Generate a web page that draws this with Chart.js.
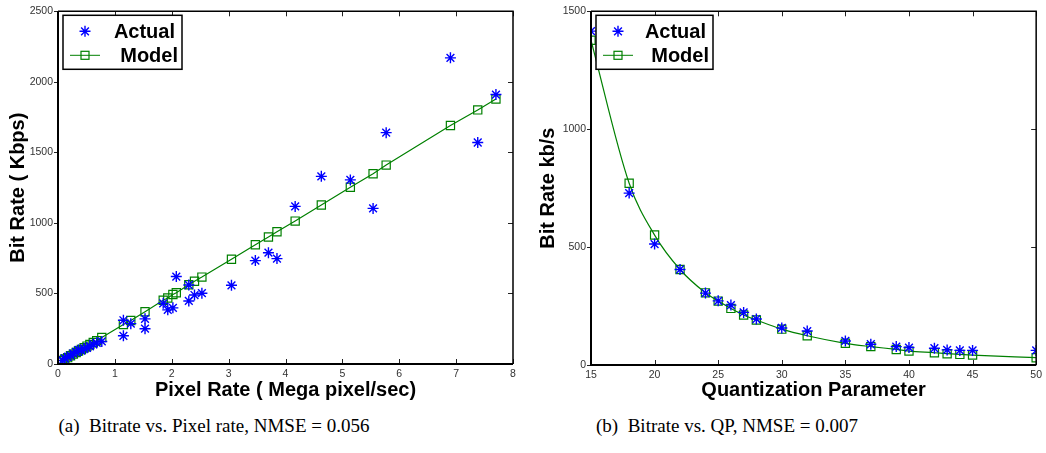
<!DOCTYPE html>
<html>
<head>
<meta charset="utf-8">
<script src="https://cdn.jsdelivr.net/npm/chart.js"></script>
<style>
    body { margin: 0; background: #fff; width: 1046px; height: 453px; overflow: hidden; position: relative; }
    canvas { position: absolute; top: 0; }
    .caption { position: absolute; top: 415px; font: 19px "Liberation Serif", "Times New Roman", serif; color: #000; line-height: 22px; white-space: nowrap; transform: translateX(-50%); }
</style>
</head>
<body>
<canvas id="rateChart" width="520" height="400" style="left:0"></canvas>
<canvas id="qpChart" width="526" height="400" style="left:520px"></canvas>
<div class="caption" style="left:214px">(a)&nbsp; Bitrate vs. Pixel rate, NMSE = 0.056</div>
<div class="caption" style="left:727px">(b)&nbsp; Bitrate vs. QP, NMSE = 0.007</div>

<script>
    // (a) bitrate vs pixel rate
    const actualPixelRate = [0.08, 0.12, 0.17, 0.22, 0.27, 0.32, 0.36, 0.41, 0.46, 0.51, 0.56, 0.62, 0.68, 0.77,
        1.15, 1.15, 1.28, 1.53, 1.53, 1.85, 1.93, 2.02, 2.08, 2.30, 2.30, 2.40, 2.53, 3.05, 3.47, 3.70, 3.85,
        4.17, 4.63, 5.14, 5.54, 5.77, 6.90, 7.38, 7.70];
    const actualBitrate = [25, 40, 50, 60, 75, 85, 100, 95, 110, 115, 125, 140, 150, 160,
        310, 200, 286, 320, 250, 430, 384, 398, 620, 560, 447, 489, 502, 558, 733, 789, 747,
        1117, 1330, 1305, 1103, 1640, 2170, 1570, 1910];
    const modelPixelRate = [0.08, 0.12, 0.17, 0.22, 0.27, 0.32, 0.36, 0.41, 0.46, 0.51, 0.56, 0.62, 0.68, 0.77,
        1.15, 1.28, 1.53, 1.85, 1.93, 2.02, 2.08, 2.30, 2.40, 2.53, 3.05, 3.47, 3.70, 3.85,
        4.17, 4.63, 5.14, 5.54, 5.77, 6.90, 7.38, 7.70];
    const modelBitrate = [25, 35, 45, 58, 70, 82, 92, 103, 115, 127, 138, 152, 165, 188,
        280, 308, 370, 452, 468, 493, 505, 562, 587, 616, 742, 845, 900, 937,
        1013, 1127, 1253, 1348, 1410, 1690, 1801, 1878];

    // (b) bitrate vs QP
    const qpValues = [15, 18, 20, 22, 24, 25, 26, 27, 28, 30, 32, 35, 37, 39, 40, 42, 43, 44, 45, 50];
    const qpActual = [1416, 729, 513, 405, 305, 272, 254, 223, 195, 157, 144, 102, 88, 78, 74, 71, 64, 62, 62, 62];
    const qpModel = [1377, 771, 551, 405, 306, 271, 240, 212, 191, 152, 124, 92, 78, 66, 59, 52, 48, 45, 42, 31];

    const legendLabels = ['Actual', 'Model'];

    const BLUE = '#0000ff';
    const GREEN = '#008000';
    const FONT = "'Liberation Sans', Arial, sans-serif";

    function toPoints(xs, ys) {
        return xs.map((x, i) => ({ x: x, y: ys[i] }));
    }

    function drawStar(ctx, x, y, r) {
        ctx.beginPath();
        for (let k = 0; k < 4; k++) {
            const a = k * Math.PI / 4;
            ctx.moveTo(x - Math.cos(a) * r, y - Math.sin(a) * r);
            ctx.lineTo(x + Math.cos(a) * r, y + Math.sin(a) * r);
        }
        ctx.stroke();
    }

    // matlab style box, inward ticks and boxed legend
    const matlabFrame = {
        id: 'matlabFrame',
        afterDraw(chart, args, opts) {
            const ctx = chart.ctx;
            const a = chart.chartArea;
            const xs = chart.scales.x;
            const ys = chart.scales.y;
            ctx.save();
            ctx.strokeStyle = '#222';
            ctx.lineWidth = 1;
            ctx.beginPath();
            xs.ticks.forEach(t => {
                const px = Math.round(xs.getPixelForValue(t.value)) + 0.5;
                ctx.moveTo(px, a.bottom); ctx.lineTo(px, a.bottom - 5);
                ctx.moveTo(px, a.top); ctx.lineTo(px, a.top + 5);
            });
            ys.ticks.forEach(t => {
                const py = Math.round(ys.getPixelForValue(t.value)) + 0.5;
                ctx.moveTo(a.left - 4, py); ctx.lineTo(a.left, py);
                ctx.moveTo(a.right - 5, py); ctx.lineTo(a.right, py);
            });
            ctx.stroke();

            ctx.strokeStyle = '#000';
            ctx.lineWidth = 2;
            ctx.beginPath();
            ctx.moveTo(a.left, a.top); ctx.lineTo(a.left, a.bottom); ctx.lineTo(a.right, a.bottom);
            ctx.stroke();
            ctx.lineWidth = 1.5;
            ctx.beginPath();
            ctx.moveTo(a.left, a.top); ctx.lineTo(a.right, a.top); ctx.lineTo(a.right, a.bottom);
            ctx.stroke();

            // legend
            const bx = a.left + 5, by = a.top + 4, bw = opts.boxWidth, bh = 54;
            ctx.fillStyle = '#fff';
            ctx.fillRect(bx, by, bw, bh);
            ctx.lineWidth = 1.5;
            ctx.strokeStyle = '#000';
            ctx.strokeRect(bx, by, bw, bh);

            const mx = bx + 22;
            const row1 = by + 16, row2 = by + 40;
            ctx.strokeStyle = BLUE;
            ctx.lineWidth = 1.4;
            drawStar(ctx, mx, row1, 5.5);
            ctx.strokeStyle = GREEN;
            ctx.lineWidth = 1;
            ctx.beginPath();
            ctx.moveTo(mx - 15, row2); ctx.lineTo(mx + 15, row2);
            ctx.stroke();
            ctx.lineWidth = 1.2;
            ctx.strokeRect(mx - 4, row2 - 4, 8, 8);

            ctx.fillStyle = '#000';
            ctx.font = 'bold 20px ' + FONT;
            ctx.textAlign = 'right';
            ctx.textBaseline = 'middle';
            ctx.fillText(legendLabels[0], bx + bw - 7, row1 + 1);
            ctx.fillText(legendLabels[1], bx + bw - 4, row2 + 1);
            ctx.restore();
        }
    };

    function makeChart(id, cfg) {
        return new Chart(document.getElementById(id).getContext('2d'), {
            type: 'scatter',
            data: {
                datasets: [
                    {
                        label: legendLabels[0],
                        data: cfg.actual,
                        pointStyle: 'star',
                        pointRadius: 5.5,
                        borderColor: BLUE,
                        backgroundColor: BLUE,
                        borderWidth: 1.4,
                        showLine: false,
                        order: 1
                    },
                    {
                        label: legendLabels[1],
                        data: cfg.model,
                        pointStyle: 'rect',
                        pointRadius: 5.8,
                        borderColor: GREEN,
                        backgroundColor: 'rgba(0,0,0,0)',
                        pointBackgroundColor: 'rgba(0,0,0,0)',
                        borderWidth: 1.2,
                        showLine: true,
                        cubicInterpolationMode: cfg.curve ? 'monotone' : 'default',
                        order: 2
                    }
                ]
            },
            options: {
                responsive: false,
                animation: false,
                layout: { padding: { top: cfg.top, right: cfg.right, left: 0, bottom: 0 } },
                plugins: {
                    legend: { display: false },
                    tooltip: { enabled: false },
                    matlabFrame: { boxWidth: cfg.boxWidth }
                },
                scales: {
                    x: {
                        type: 'linear',
                        min: cfg.xMin, max: cfg.xMax,
                        grid: { display: false, drawTicks: false },
                        border: { display: false },
                        ticks: { stepSize: cfg.xStep, padding: 4, color: '#333', font: { family: FONT, size: 10.5 }, maxRotation: 0, callback: v => String(v) },
                        title: { display: true, text: cfg.xTitle, color: '#000', font: { family: FONT, size: 20, weight: 'bold', lineHeight: 1 }, padding: { top: 0, bottom: 0 } },
                        afterFit: s => { s.height = 400 - cfg.bottom; }
                    },
                    y: {
                        type: 'linear',
                        min: 0, max: cfg.yMax,
                        grid: { display: false, drawTicks: false },
                        border: { display: false },
                        ticks: { stepSize: 500, padding: 5, color: '#333', font: { family: FONT, size: 10.5 }, callback: v => String(v) },
                        title: { display: true, text: cfg.yTitle, color: '#000', font: { family: FONT, size: 20, weight: 'bold', lineHeight: 1 }, padding: { top: cfg.yTitlePad, bottom: 0 } },
                        afterFit: s => { s.width = cfg.left; }
                    }
                }
            },
            plugins: [matlabFrame]
        });
    }

    document.addEventListener('DOMContentLoaded', function() {
        makeChart('rateChart', {
            actual: toPoints(actualPixelRate, actualBitrate),
            model: toPoints(modelPixelRate, modelBitrate),
            xMin: 0, xMax: 8, xStep: 1, yMax: 2500,
            xTitle: 'Pixel Rate ( Mega pixel/sec)',
            yTitle: 'Bit Rate ( Kbps)',
            left: 58, right: 7, top: 6, bottom: 364,
            yTitlePad: 8, boxWidth: 119, curve: false
        });
        makeChart('qpChart', {
            actual: toPoints(qpValues, qpActual),
            model: toPoints(qpValues, qpModel),
            xMin: 15, xMax: 50, xStep: 5, yMax: 1500,
            xTitle: 'Quantization Parameter',
            yTitle: 'Bit Rate kb/s',
            left: 71, right: 6, top: 11, bottom: 365,
            yTitlePad: 18, boxWidth: 117, curve: true
        });
    });
</script>
</body>
</html>
